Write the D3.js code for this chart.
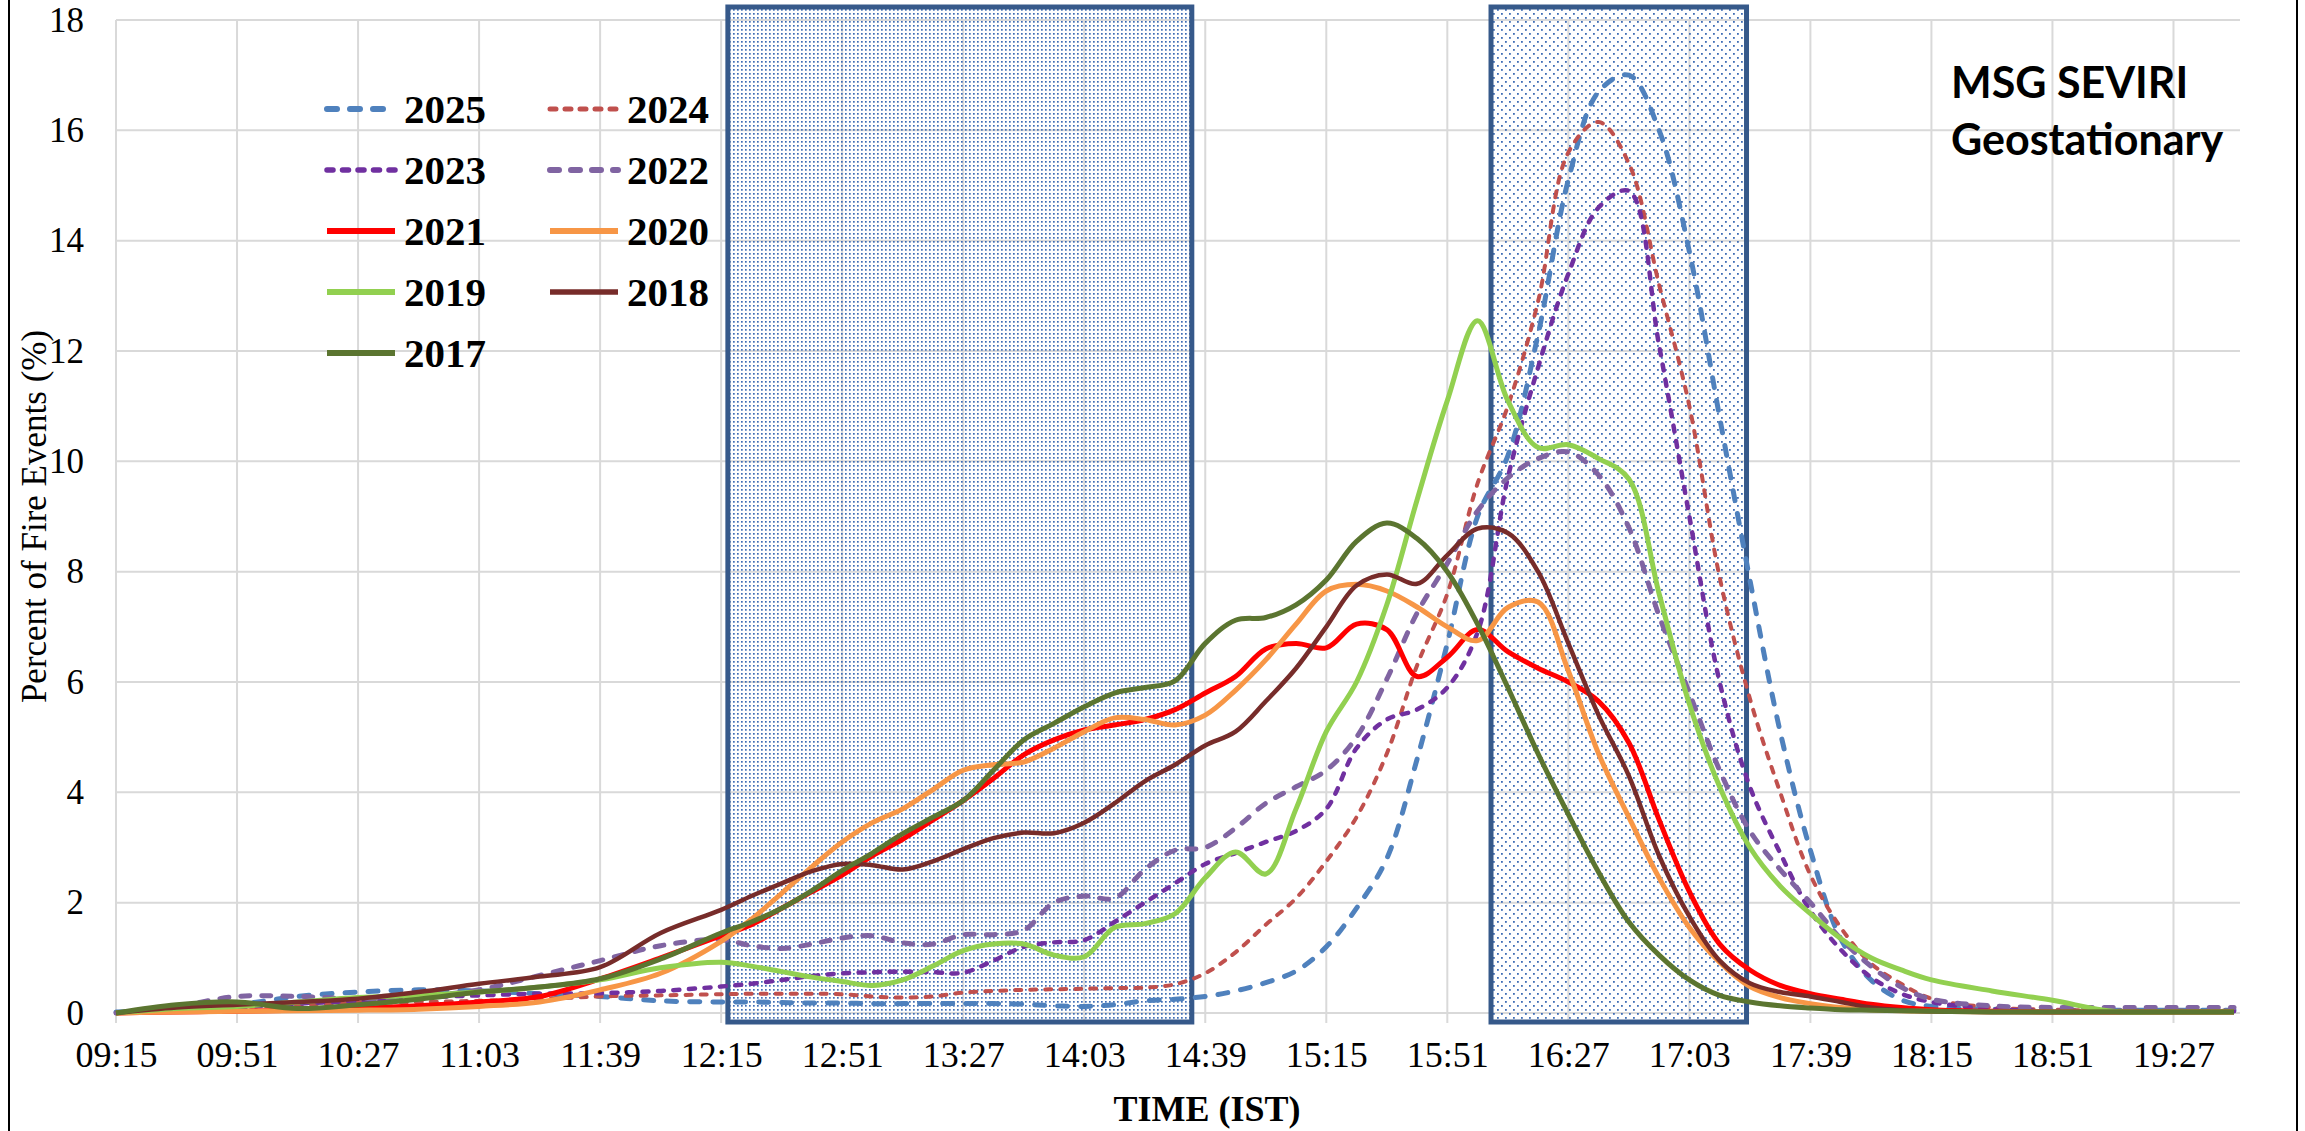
<!DOCTYPE html>
<meta charset="utf-8">
<style>
body { margin: 0; background: #fff; }
.grid line { stroke: #d9d9d9; stroke-width: 2px; }
.axis text { font-family: "Liberation Serif", "Times New Roman", serif; fill: #000; }
.line { fill: none; }
</style>
<body>
<script src="https://d3js.org/d3.v7.min.js"></script>
<script>

// time categories (IST)
var times = ["09:15","09:33","09:51","10:09","10:27","10:45","11:03","11:21","11:39","11:57","12:15",
  "12:24","12:33","12:42","12:51","13:00","13:09","13:18","13:27","13:36","13:45","13:54","14:03","14:12","14:21","14:30","14:39",
  "14:48","14:57","15:06","15:15","15:24","15:33","15:42","15:51","16:00","16:09","16:18","16:27","16:36","16:45","16:54","17:03",
  "17:12","17:21","17:30","17:39","17:48","17:57","18:06","18:15","18:33","18:51","19:09","19:27","19:45"];

var tickLabels = ["09:15","09:51","10:27","11:03","11:39","12:15","12:51","13:27","14:03","14:39","15:15","15:51",
  "16:27","17:03","17:39","18:15","18:51","19:27"];
var yTicks = [0, 2, 4, 6, 8, 10, 12, 14, 16, 18];

// percent of fire events per year
var v2025 = [0.02,0.06,0.15,0.3,0.38,0.42,0.4,0.35,0.3,0.22,0.2,
  0.2,0.19,0.18,0.18,0.17,0.17,0.17,0.17,0.17,0.16,0.13,0.12,0.15,0.22,0.25,0.3,
  0.4,0.55,0.76,1.2,1.9,2.8,4.6,6.7,9.0,10.1,12.3,15.1,16.7,17.0,16.0,13.8,
  10.8,7.85,5.1,2.95,1.35,0.6,0.24,0.12,0.07,0.05,0.05,0.05,0.05];
var v2024 = [0,0.05,0.1,0.15,0.18,0.2,0.22,0.25,0.3,0.32,0.34,
  0.35,0.35,0.35,0.34,0.3,0.28,0.3,0.37,0.4,0.42,0.43,0.44,0.45,0.46,0.52,0.72,
  1.1,1.6,2.08,2.75,3.55,4.7,6.3,7.6,9.6,11.0,12.9,15.6,16.15,15.4,13.2,11.0,
  7.9,5.7,4.0,2.5,1.55,0.9,0.53,0.26,0.1,0.06,0.04,0.04,0.04];
var v2023 = [0,0.05,0.1,0.17,0.22,0.28,0.32,0.35,0.36,0.4,0.48,
  0.53,0.6,0.67,0.72,0.74,0.75,0.74,0.73,0.95,1.2,1.28,1.32,1.65,2.0,2.35,2.7,
  2.9,3.1,3.3,3.7,4.8,5.32,5.5,5.9,6.9,9.7,11.7,13.4,14.6,14.9,12.1,9.0,
  6.0,4.1,2.9,1.85,1.15,0.65,0.35,0.2,0.07,0.04,0.03,0.03,0.03];
var v2022 = [0,0.12,0.3,0.3,0.26,0.3,0.42,0.68,0.95,1.22,1.33,
  1.22,1.17,1.25,1.36,1.4,1.27,1.25,1.42,1.42,1.5,2.0,2.12,2.08,2.6,2.95,3.0,
  3.35,3.8,4.1,4.4,5.0,6.05,7.25,8.15,9.1,9.7,10.05,10.17,9.75,8.8,7.2,5.8,
  4.4,3.3,2.6,2.0,1.35,0.85,0.47,0.25,0.13,0.1,0.1,0.1,0.1];
var v2021 = [0,0.02,0.03,0.05,0.08,0.13,0.2,0.3,0.62,1.0,1.4,
  1.6,1.9,2.2,2.5,2.85,3.15,3.5,3.85,4.25,4.68,4.95,5.13,5.22,5.32,5.5,5.8,
  6.1,6.6,6.7,6.62,7.05,6.95,6.1,6.45,6.95,6.55,6.25,6.0,5.65,4.9,3.5,2.2,
  1.25,0.78,0.5,0.35,0.25,0.16,0.1,0.06,0.03,0.02,0.02,0.02,0.02];
var v2020 = [0,0.02,0.03,0.04,0.05,0.07,0.12,0.2,0.42,0.72,1.3,
  1.7,2.17,2.65,3.1,3.45,3.7,4.05,4.4,4.5,4.55,4.8,5.1,5.35,5.32,5.22,5.4,
  5.85,6.4,7.05,7.65,7.77,7.65,7.36,7.0,6.75,7.35,7.45,6.2,4.7,3.55,2.45,1.55,
  0.92,0.48,0.28,0.17,0.1,0.06,0.04,0.03,0.02,0.02,0.02,0.02,0.02];
var v2019 = [0,0.08,0.12,0.2,0.28,0.32,0.38,0.47,0.6,0.82,0.92,
  0.85,0.75,0.65,0.57,0.5,0.6,0.85,1.13,1.25,1.25,1.05,1.02,1.55,1.62,1.8,2.45,
  2.92,2.52,3.7,5.1,6.0,7.4,9.3,11.1,12.55,11.1,10.25,10.3,10.05,9.68,7.6,5.6,
  4.1,3.0,2.3,1.8,1.35,1.0,0.78,0.6,0.4,0.23,0.03,0.02,0.02];
var v2018 = [0,0.1,0.15,0.2,0.26,0.38,0.53,0.66,0.83,1.45,1.87,
  2.12,2.35,2.57,2.7,2.68,2.6,2.75,2.97,3.17,3.27,3.26,3.45,3.8,4.2,4.5,4.85,
  5.1,5.65,6.25,7.0,7.75,7.95,7.78,8.3,8.78,8.7,8.0,6.7,5.4,4.3,2.85,1.75,
  0.95,0.54,0.38,0.3,0.2,0.1,0.05,0.03,0.02,0.02,0.02,0.02,0.02];
var v2017 = [0,0.15,0.2,0.08,0.15,0.25,0.38,0.47,0.62,0.98,1.45,
  1.65,1.9,2.22,2.58,2.9,3.25,3.55,3.85,4.4,4.95,5.25,5.55,5.8,5.9,6.02,6.7,
  7.12,7.17,7.4,7.85,8.55,8.88,8.6,8.0,7.05,5.9,4.7,3.6,2.55,1.65,1.05,0.6,
  0.32,0.2,0.13,0.09,0.06,0.05,0.04,0.03,0.02,0.02,0.02,0.02,0.02];

var years  = ["2025","2024","2023","2022","2021","2020","2019","2018","2017"];
var values = [v2025, v2024, v2023, v2022, v2021, v2020, v2019, v2018, v2017];

// highlighted periods
var bands = [["12:17","14:35"], ["16:04","17:20"]];

var colors = ["#4f81bd","#c0504d","#7030a0","#8064a2","#ff0000","#f79646","#92d050","#772c2a","#5b7530"];
var widths = [5, 4, 4.5, 5, 5, 5, 5, 4.5, 5];
var dashes = ["10,13","6,9","6,9.5","9,12",null,null,null,null,null];

function mins(s) { var p = s.split(":"); return (+p[0]) * 60 + (+p[1]) - 555; }

var W = 2305, H = 1131;
var x = d3.scaleLinear().domain([0, 630]).range([116, 2234]);
var y = d3.scaleLinear().domain([0, 18]).range([1013, 20]);

var svg = d3.select("body").append("svg")
    .attr("width", W).attr("height", H);

svg.append("rect").attr("width", W).attr("height", H).attr("fill", "#fff");

// outer frame
svg.append("rect").attr("x", 9).attr("y", -10).attr("width", 2288).attr("height", H + 20)
    .attr("fill", "none").attr("stroke", "#000").attr("stroke-width", 2);

// dotted patterns
var defs = svg.append("defs");
var p1 = defs.append("pattern").attr("id", "dots1").attr("patternUnits", "userSpaceOnUse")
    .attr("width", 4).attr("height", 4);
p1.append("rect").attr("x", 1).attr("y", 1).attr("width", 1.7).attr("height", 1.7).attr("fill", "#3f6db5");
var p2 = defs.append("pattern").attr("id", "dots2").attr("patternUnits", "userSpaceOnUse")
    .attr("width", 8).attr("height", 8);
p2.append("rect").attr("x", 1).attr("y", 1).attr("width", 1.8).attr("height", 1.8).attr("fill", "#3f6db5");
p2.append("rect").attr("x", 5).attr("y", 5).attr("width", 1.8).attr("height", 1.8).attr("fill", "#3f6db5");

// gridlines
var grid = svg.append("g").attr("class", "grid");
grid.selectAll(".h").data(yTicks).enter().append("line")
    .attr("x1", 116).attr("x2", 2240)
    .attr("y1", function(d) { return y(d); }).attr("y2", function(d) { return y(d); });
grid.selectAll(".v").data(tickLabels).enter().append("line")
    .attr("x1", function(d) { return x(mins(d)); }).attr("x2", function(d) { return x(mins(d)); })
    .attr("y1", y(18)).attr("y2", y(0) + 10);

// shaded boxes
svg.selectAll(".band").data(bands).enter().append("rect")
    .attr("x", function(d) { return x(mins(d[0])); })
    .attr("width", function(d) { return x(mins(d[1])) - x(mins(d[0])); })
    .attr("y", y(18) - 13)
    .attr("height", y(0) - y(18) + 22)
    .attr("fill", function(d, i) { return i == 0 ? "url(#dots1)" : "url(#dots2)"; })
    .attr("stroke", "#36598a").attr("stroke-width", 5);

// axes
var xAxis = svg.append("g").attr("class", "axis")
    .attr("transform", "translate(0," + y(0) + ")")
    .call(d3.axisBottom(x).tickValues(tickLabels.map(mins))
      .tickFormat(function(d, i) { return tickLabels[i]; })
      .tickSize(0).tickPadding(28));
xAxis.select(".domain").remove();
xAxis.selectAll("text").style("font-size", "36px");

var yAxis = svg.append("g").attr("class", "axis")
    .attr("transform", "translate(84,0)")
    .call(d3.axisLeft(y).tickValues(yTicks).tickSize(0).tickPadding(0));
yAxis.select(".domain").remove();
yAxis.selectAll("text").style("font-size", "35px");

// lines
var line = d3.line()
    .x(function(d) { return x(d.t); })
    .y(function(d) { return y(d.v); })
    .curve(d3.curveCatmullRom.alpha(0.5));

years.forEach(function(yr, i) {
  var data = times.map(function(t, j) { return {t: mins(t), v: values[i][j]}; });
  svg.append("path")
      .datum(data)
      .attr("class", "line")
      .attr("d", line)
      .attr("stroke", colors[i])
      .attr("stroke-width", widths[i])
      .attr("stroke-linecap", dashes[i] ? "round" : "butt")
      .attr("stroke-linejoin", "round")
      .attr("stroke-dasharray", dashes[i]);
});

// legend
var leg = svg.append("g");
years.forEach(function(yr, i) {
  var col = i % 2, row = Math.floor(i / 2);
  var lx = col == 0 ? 327 : 550, ty = 109 + row * 61;
  leg.append("line")
      .attr("x1", lx).attr("x2", lx + 68).attr("y1", ty).attr("y2", ty)
      .attr("stroke", colors[i]).attr("stroke-width", widths[i] + 1)
      .attr("stroke-linecap", dashes[i] ? "round" : "butt")
      .attr("stroke-dasharray", dashes[i]);
  leg.append("text")
      .attr("x", lx + 77).attr("y", ty + 14)
      .style("font-family", "'Liberation Serif', 'Times New Roman', serif")
      .style("font-weight", "bold").style("font-size", "41px")
      .text(yr);
});

// sensor label
var lab = svg.append("text")
    .attr("x", 1951)
    .style("font-family", "Lato, 'Open Sans', sans-serif")
    .style("font-weight", "bold").style("font-size", "43px");
lab.append("tspan").attr("x", 1951).attr("y", 98).text("MSG SEVIRI");
lab.append("tspan").attr("x", 1951).attr("y", 155).text("Geostationary");

// axis titles
svg.append("text")
    .attr("transform", "translate(46," + ((y(0) + y(18)) / 2) + ") rotate(-90)")
    .attr("text-anchor", "middle")
    .style("font-family", "'Liberation Serif', 'Times New Roman', serif")
    .style("font-size", "35px")
    .text("Percent of Fire Events (%)");

svg.append("text")
    .attr("x", 1207).attr("y", 1121)
    .attr("text-anchor", "middle")
    .style("font-family", "'Liberation Serif', 'Times New Roman', serif")
    .style("font-weight", "bold").style("font-size", "36px")
    .text("TIME (IST)");

</script>
</body>
